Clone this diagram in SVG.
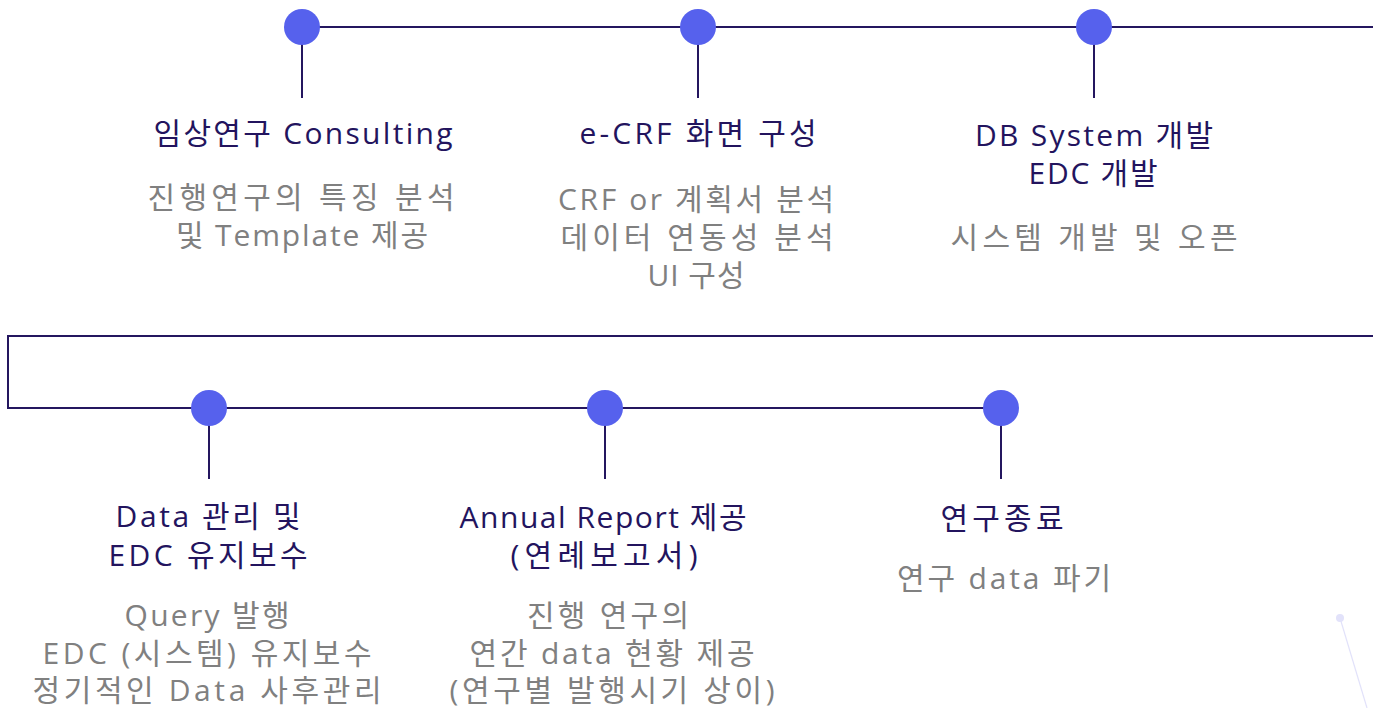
<svg xmlns="http://www.w3.org/2000/svg" width="1373" height="708" viewBox="0 0 1373 708">
<style>
.ln{stroke:#24165f;stroke-width:2;fill:none}
.dot{fill:#5661ED}
text{font-family:"Open Sans","Noto Sans CJK KR",sans-serif;font-size:30px;text-anchor:middle}
.t{fill:#23145e}
.b{fill:#808080}
</style>
<rect width="1373" height="708" fill="#ffffff"/>
<g id="connectors">
<path class="ln" d="M302,27 H1373"/>
<path class="ln" d="M1373,336 H8 V408 H1001"/>
<path class="ln" d="M302,27 V98"/>
<path class="ln" d="M698,27 V98"/>
<path class="ln" d="M1094,27 V98"/>
<path class="ln" d="M209,408 V479"/>
<path class="ln" d="M605,408 V479"/>
<path class="ln" d="M1001,408 V479"/>
</g>
<g id="deco">
<line x1="1340" y1="618" x2="1367" y2="708" stroke="#e2e2fa" stroke-width="1.2"/>
<circle cx="1340" cy="618" r="4" fill="#e2e2fa"/>
</g>
<g id="n1">
<circle class="dot" cx="302" cy="27" r="18"/>
<text class="t" x="303" y="144" textLength="299" lengthAdjust="spacing">임상연구 Consulting</text>
<text class="b" x="301" y="208" textLength="307" lengthAdjust="spacing">진행연구의 특징 분석</text>
<text class="b" x="302" y="246" textLength="252" lengthAdjust="spacing">및 Template 제공</text>
</g>
<g id="n2">
<circle class="dot" cx="698" cy="27" r="18"/>
<text class="t" x="698" y="144" textLength="237" lengthAdjust="spacing">e-CRF 화면 구성</text>
<text class="b" x="696" y="210" textLength="276" lengthAdjust="spacing">CRF or 계획서 분석</text>
<text class="b" x="697" y="248" textLength="273" lengthAdjust="spacing">데이터 연동성 분석</text>
<text class="b" x="696" y="286" textLength="97" lengthAdjust="spacing">UI 구성</text>
</g>
<g id="n3">
<circle class="dot" cx="1094" cy="27" r="18"/>
<text class="t" x="1094" y="146" textLength="238" lengthAdjust="spacing">DB System 개발</text>
<text class="t" x="1093" y="184" textLength="129" lengthAdjust="spacing">EDC 개발</text>
<text class="b" x="1094" y="248" textLength="287" lengthAdjust="spacing">시스템 개발 및 오픈</text>
</g>
<g id="n4">
<circle class="dot" cx="209" cy="408" r="18"/>
<text class="t" x="208" y="527" textLength="185" lengthAdjust="spacing">Data 관리 및</text>
<text class="t" x="208" y="566" textLength="199" lengthAdjust="spacing">EDC 유지보수</text>
<text class="b" x="207" y="626" textLength="165" lengthAdjust="spacing">Query 발행</text>
<text class="b" x="207" y="664" textLength="329" lengthAdjust="spacing">EDC (시스템) 유지보수</text>
<text class="b" x="207" y="701" textLength="349" lengthAdjust="spacing">정기적인 Data 사후관리</text>
</g>
<g id="n5">
<circle class="dot" cx="605" cy="408" r="18"/>
<text class="t" x="603" y="528" textLength="287" lengthAdjust="spacing">Annual Report 제공</text>
<text class="t" x="604" y="566" textLength="187" lengthAdjust="spacing">(연례보고서)</text>
<text class="b" x="608" y="626" textLength="162" lengthAdjust="spacing">진행 연구의</text>
<text class="b" x="612" y="664" textLength="285" lengthAdjust="spacing">연간 data 현황 제공</text>
<text class="b" x="612" y="701" textLength="325" lengthAdjust="spacing">(연구별 발행시기 상이)</text>
</g>
<g id="n6">
<circle class="dot" cx="1001" cy="408" r="18"/>
<text class="t" x="1002" y="529" textLength="123" lengthAdjust="spacing">연구종료</text>
<text class="b" x="1004" y="589" textLength="214" lengthAdjust="spacing">연구 data 파기</text>
</g>
</svg>
